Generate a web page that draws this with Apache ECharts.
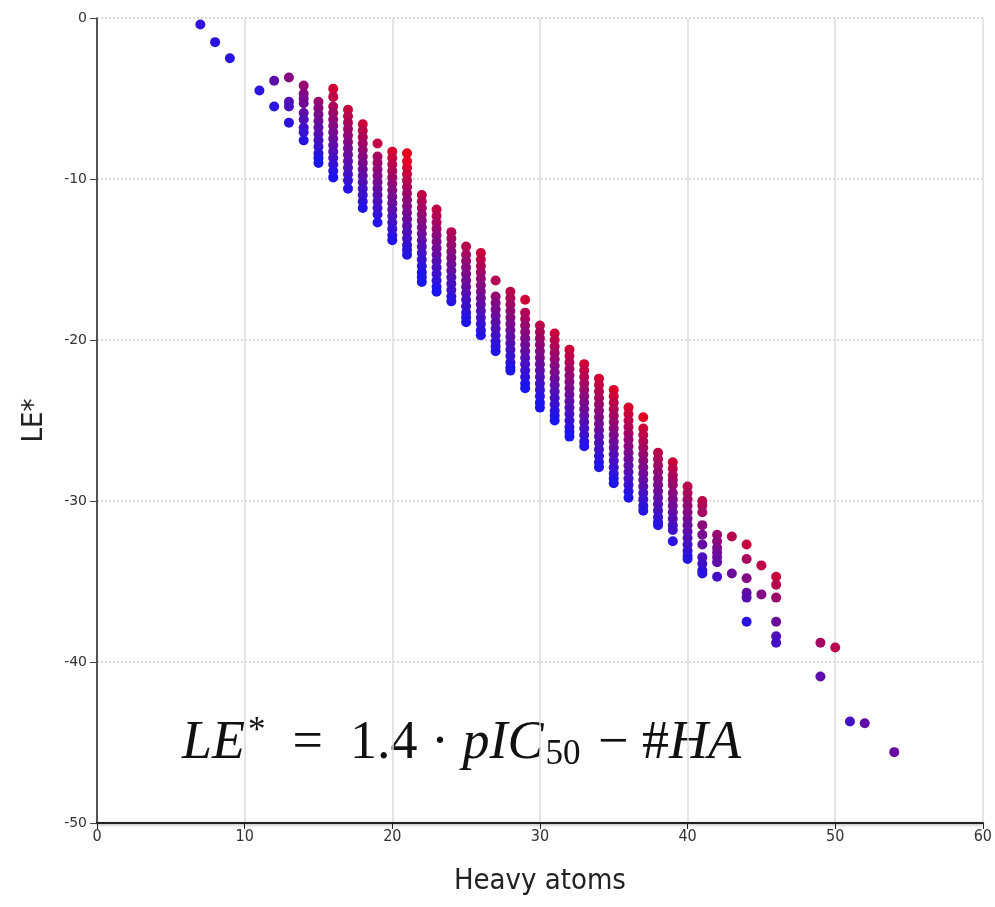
<!DOCTYPE html>
<html>
<head>
<meta charset="utf-8">
<script src="https://cdn.jsdelivr.net/npm/echarts@6/dist/echarts.min.js"></script>
<style>
html,body{margin:0;padding:0;background:#fff;}
#chart{width:995px;height:907px;}
</style>
</head>
<body>
<div id="chart"></div>
<script>
// Heavy atom counts (x) and the LE* values read for each column (y)
var heavyAtoms = [7, 8, 9, 11, 12, 13, 14, 15, 16, 17, 18, 19, 20, 21, 22, 23, 24, 25, 26, 27, 28, 29, 30,
  31, 32, 33, 34, 35, 36, 37, 38, 39, 40, 41, 42, 43, 44, 45, 46, 49, 50, 51, 52, 54];
var leStar = [
  [-0.4],
  [-1.5],
  [-2.5],
  [-4.5],
  [-3.9, -5.5],
  [-3.7, -5.2, -5.5, -6.5],
  [-4.2, -4.7, -5.0, -5.3, -5.9, -6.3, -6.8, -7.1, -7.6],
  [-5.2, -5.6, -6.0, -6.4, -6.8, -7.2, -7.6, -8.0, -8.4, -8.7, -9.0],
  [-4.4, -4.9, -5.5, -5.9, -6.3, -6.7, -7.1, -7.5, -7.9, -8.3, -8.7, -9.1, -9.5, -9.9],
  [-5.7, -6.1, -6.5, -6.9, -7.3, -7.7, -8.1, -8.5, -8.9, -9.3, -9.7, -10.1, -10.6],
  [-6.6, -7.0, -7.4, -7.8, -8.2, -8.6, -9.0, -9.4, -9.8, -10.2, -10.6, -11.0, -11.4, -11.8],
  [-7.8, -8.6, -9.0, -9.4, -9.8, -10.2, -10.6, -11.0, -11.4, -11.8, -12.2, -12.7],
  [-8.3, -8.7, -9.1, -9.5, -9.9, -10.3, -10.7, -11.1, -11.5, -11.9, -12.3, -12.7, -13.1, -13.5, -13.8],
  [-8.4, -8.9, -9.3, -9.7, -10.1, -10.5, -10.9, -11.3, -11.7, -12.1, -12.5, -12.9, -13.3, -13.7, -14.1, -14.4, -14.7],
  [-11.0, -11.4, -11.8, -12.2, -12.6, -13.0, -13.4, -13.8, -14.2, -14.6, -15.0, -15.4, -15.8, -16.1, -16.4],
  [-11.9, -12.3, -12.7, -13.1, -13.5, -13.9, -14.3, -14.7, -15.1, -15.5, -15.9, -16.3, -16.7, -17.0],
  [-13.3, -13.7, -14.1, -14.5, -14.9, -15.3, -15.7, -16.1, -16.5, -16.9, -17.3, -17.6],
  [-14.2, -14.7, -15.1, -15.5, -15.9, -16.3, -16.7, -17.1, -17.5, -17.9, -18.3, -18.6, -18.9],
  [-14.6, -15.0, -15.4, -15.8, -16.2, -16.6, -17.0, -17.4, -17.8, -18.2, -18.6, -19.0, -19.4, -19.7],
  [-16.3, -17.3, -17.7, -18.1, -18.5, -18.9, -19.3, -19.7, -20.1, -20.4, -20.7],
  [-17.0, -17.4, -17.8, -18.2, -18.6, -19.0, -19.4, -19.8, -20.2, -20.6, -21.0, -21.4, -21.7, -21.9],
  [-17.5, -18.3, -18.7, -19.1, -19.5, -19.9, -20.3, -20.7, -21.1, -21.5, -21.9, -22.3, -22.7, -23.0],
  [-19.1, -19.5, -19.9, -20.3, -20.7, -21.1, -21.5, -21.9, -22.3, -22.7, -23.1, -23.5, -23.9, -24.2],
  [-19.6, -20.0, -20.4, -20.8, -21.2, -21.6, -22.0, -22.4, -22.8, -23.2, -23.6, -24.0, -24.4, -24.7, -25.0],
  [-20.6, -21.0, -21.4, -21.8, -22.2, -22.6, -23.0, -23.4, -23.8, -24.2, -24.6, -25.0, -25.4, -25.7, -26.0],
  [-21.5, -21.9, -22.3, -22.7, -23.1, -23.5, -23.9, -24.3, -24.7, -25.1, -25.5, -25.9, -26.3, -26.6],
  [-22.4, -22.8, -23.2, -23.6, -24.0, -24.4, -24.8, -25.2, -25.6, -26.0, -26.4, -26.8, -27.2, -27.6, -27.9],
  [-23.1, -23.5, -23.9, -24.3, -24.7, -25.1, -25.5, -25.9, -26.3, -26.7, -27.1, -27.5, -27.9, -28.3, -28.6, -28.9],
  [-24.2, -24.6, -25.0, -25.4, -25.8, -26.2, -26.6, -27.0, -27.4, -27.8, -28.2, -28.6, -29.0, -29.4, -29.8],
  [-24.8, -25.5, -25.9, -26.3, -26.7, -27.1, -27.5, -27.9, -28.3, -28.7, -29.1, -29.5, -29.9, -30.3, -30.6],
  [-27.0, -27.4, -27.8, -28.2, -28.6, -29.0, -29.4, -29.8, -30.2, -30.6, -31.0, -31.3, -31.5],
  [-27.6, -28.0, -28.4, -28.7, -29.0, -29.5, -29.9, -30.3, -30.7, -31.1, -31.5, -31.8, -32.5],
  [-29.1, -29.5, -29.9, -30.3, -30.7, -31.1, -31.5, -31.9, -32.3, -32.7, -33.1, -33.4, -33.6],
  [-30.0, -30.3, -30.7, -31.5, -32.1, -32.7, -33.5, -33.9, -34.3, -34.5],
  [-32.1, -32.5, -32.9, -33.2, -33.5, -33.8, -34.7],
  [-32.2, -34.5],
  [-32.7, -33.6, -34.8, -35.7, -36.0, -37.5],
  [-34.0, -35.8],
  [-34.7, -35.2, -36.0, -37.5, -38.4, -38.8],
  [-38.8, -40.9],
  [-39.1],
  [-43.7],
  [-43.8],
  [-45.6]
];
var xTicks = [0, 10, 20, 30, 40, 50, 60];
var yTicks = [-50, -40, -30, -20, -10, 0];

// Build points: [HA, LE*, pIC50] where pIC50 follows from LE* = 1.4*pIC50 - HA
var points = [];
heavyAtoms.forEach(function (ha, i) {
  leStar[i].forEach(function (le) {
    points.push([ha, le, (le + ha) / 1.4]);
  });
});

var chart = echarts.init(document.getElementById('chart'));
var labelFont = 'DejaVu Sans';
var serif = 'Liberation Serif';
chart.setOption({
  animation: false,
  backgroundColor: '#ffffff',
  grid: { left: 97, top: 18, right: 10, bottom: 84 },
  xAxis: {
    type: 'value',
    min: xTicks[0], max: xTicks[xTicks.length - 1], interval: 10,
    name: 'Heavy atoms', nameLocation: 'middle', nameGap: 44,
    nameTextStyle: { fontFamily: 'DejaVu Sans Condensed, DejaVu Sans', fontSize: 29, color: '#222' },
    axisLine: { show: true, onZero: false, lineStyle: { color: '#222', width: 2, shadowColor: 'rgba(0,0,0,0.35)', shadowBlur: 3, shadowOffsetY: 1 } },
    axisTick: { show: true, inside: false, length: 6, lineStyle: { color: '#222' } },
    axisLabel: { fontFamily: 'DejaVu Sans Condensed, DejaVu Sans', fontSize: 16, color: '#333', margin: 6 },
    splitLine: { show: true, lineStyle: { color: '#dcdcdc', width: 1.5 } }
  },
  yAxis: {
    type: 'value',
    min: yTicks[0], max: yTicks[yTicks.length - 1], interval: 10,
    name: 'LE*', nameLocation: 'middle', nameGap: 48, nameRotate: 90,
    nameTextStyle: { fontFamily: 'DejaVu Sans Condensed, DejaVu Sans', fontSize: 29, color: '#222' },
    axisLine: { show: true, onZero: false, lineStyle: { color: '#222', width: 1.5 } },
    axisTick: { show: true, inside: false, length: 7, lineStyle: { color: '#444' } },
    axisLabel: { fontFamily: labelFont, fontSize: 14, color: '#333', margin: 10 },
    splitLine: { show: true, lineStyle: { color: '#cfcfcf', width: 1.5, type: [2, 2] } }
  },
  visualMap: {
    show: false,
    dimension: 2,
    min: 4.3, max: 8.8,
    inRange: { color: ['#1a14f0', '#e8001c'] }
  },
  series: [{
    type: 'scatter',
    data: points,
    symbolSize: 10,
    itemStyle: { opacity: 1 }
  }],
  graphic: [{
    type: 'text',
    left: 182, top: 714,
    style: {
      text: '{i|LE}{sup|*}{n|  =  1.4 · }{i|pIC}{sub|50}{n| − #}{i|HA}',
      fill: '#111',
      rich: {
        i: { fontFamily: serif, fontStyle: 'italic', fontSize: 54, fill: '#111' },
        n: { fontFamily: serif, fontSize: 54, fill: '#111' },
        sup: { fontFamily: serif, fontSize: 35, fill: '#111', verticalAlign: 'top', padding: [0, 0, 25, 3] },
        sub: { fontFamily: serif, fontSize: 35, fill: '#111', padding: [21, 4, 0, 2] }
      }
    }
  }]
});
</script>
</body>
</html>
